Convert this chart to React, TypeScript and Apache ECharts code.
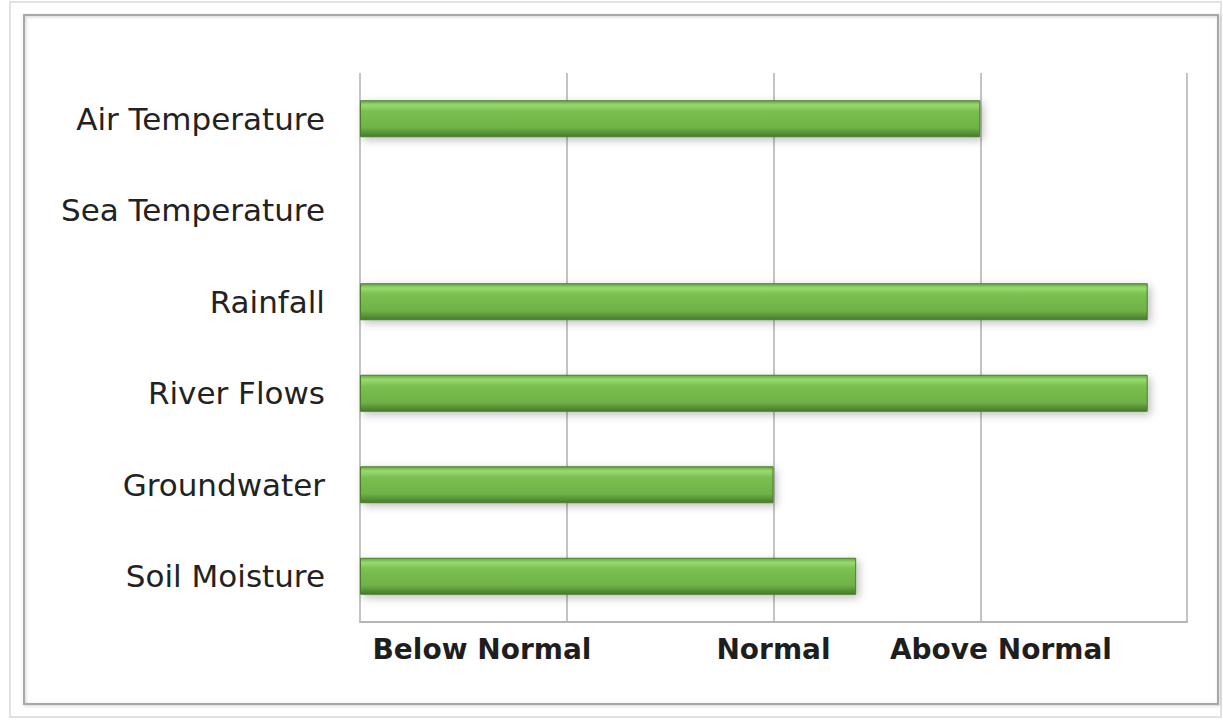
import React, { useEffect, useRef } from "react";
import * as echarts from "echarts";

const categories = ["Air Temperature", "Sea Temperature", "Rainfall", "River Flows", "Groundwater", "Soil Moisture"];
const values = [3.0, 0, 3.81, 3.81, 2.0, 2.4];
const tickLabels = ["Below Normal", "Normal", "Above Normal"];
const tickPositions = [0.59, 2, 3.1];

export default function App() {
  const ref = useRef<HTMLDivElement>(null);
  useEffect(() => {
    const chart = echarts.init(ref.current!, null, { renderer: "svg" });
    chart.setOption({
      animation: false,
      backgroundColor: "#ffffff",
      graphic: [
        { type: "rect", shape: { x: 10, y: 2, width: 1211, height: 715 }, style: { fill: "none", stroke: "#e2e2e2", lineWidth: 2 } },
        {
          type: "rect",
          shape: { x: 24, y: 15, width: 1194, height: 689 },
          style: { fill: "none", stroke: "#a8a8a8", lineWidth: 2, shadowBlur: 3, shadowColor: "rgba(0,0,0,0.2)", shadowOffsetX: 1, shadowOffsetY: 1 },
        },
      ],
      grid: { left: 360, right: 36, top: 73, bottom: 98, containLabel: false },
      xAxis: {
        type: "value",
        min: 0,
        max: 4,
        interval: 1,
        axisLine: { show: true, lineStyle: { color: "#b5b5b5", width: 2 } },
        axisTick: { show: false },
        splitLine: { show: true, lineStyle: { color: "#c4c4c4", width: 2 } },
        axisLabel: {
          customValues: tickPositions,
          formatter: (v: number) => {
            const i = tickPositions.findIndex((p) => Math.abs(p - v) < 1e-6);
            return i >= 0 ? tickLabels[i] : "";
          },
          color: "#1e1e1e",
          fontFamily: "DejaVu Sans",
          fontWeight: "bold",
          fontSize: 28,
          margin: 13,
        },
      },
      yAxis: {
        type: "category",
        data: categories,
        inverse: true,
        axisLine: { show: false },
        axisTick: { show: false },
        splitLine: { show: false },
        axisLabel: { color: "#222222", fontFamily: "DejaVu Sans", fontSize: 31, margin: 35 },
      },
      series: [
        {
          type: "bar",
          data: values,
          barWidth: 37,
          itemStyle: {
            color: new echarts.graphic.LinearGradient(0, 0, 0, 1, [
              { offset: 0, color: "#66a640" },
              { offset: 0.12, color: "#98da70" },
              { offset: 0.3, color: "#7abf50" },
              { offset: 0.75, color: "#6fb247" },
              { offset: 1, color: "#467a29" },
            ]),
            borderColor: "#4a7d2c",
            borderWidth: 1,
            shadowBlur: 8,
            shadowColor: "rgba(0,0,0,0.25)",
            shadowOffsetX: 3,
            shadowOffsetY: 3,
          },
        },
      ],
    });
    return () => chart.dispose();
  }, []);
  return <div ref={ref} style={{ position: "fixed", left: 0, top: 0, width: 1223, height: 720 }} />;
}
